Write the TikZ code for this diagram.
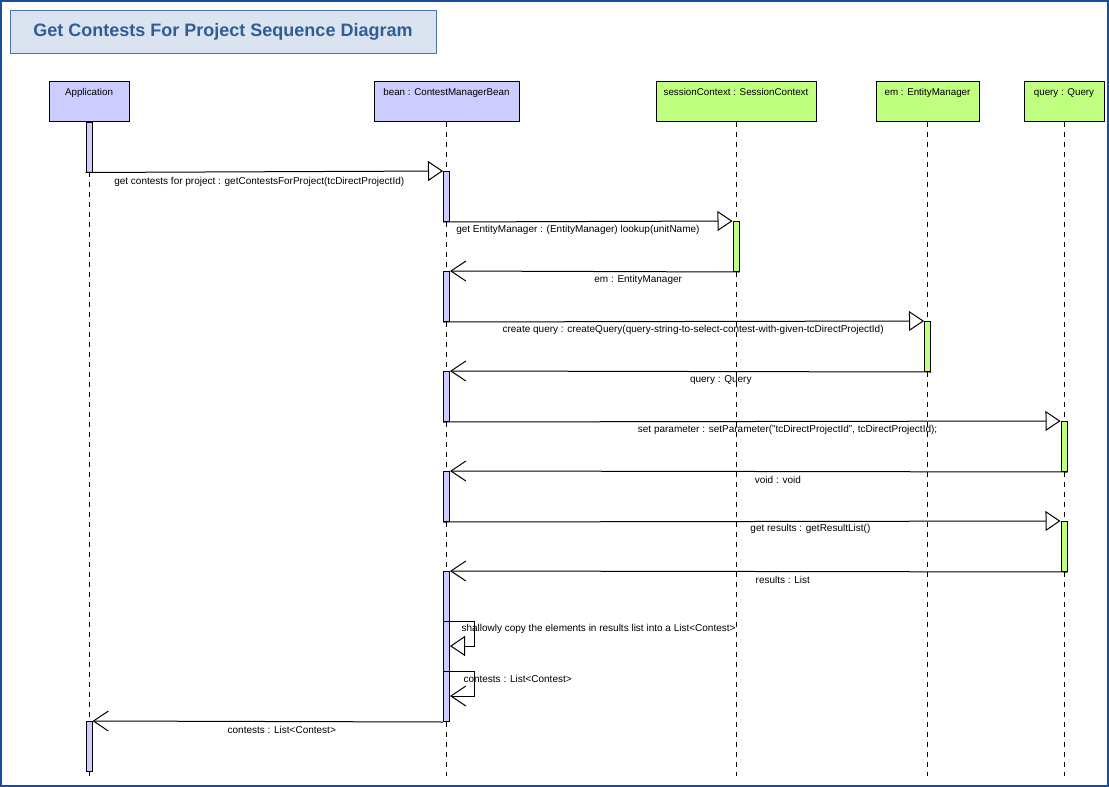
\documentclass[tikz,border=0pt]{standalone}
\usepackage{fontspec}
\setmainfont{Liberation Sans}
\usetikzlibrary{arrows.meta}
\definecolor{objblue}{HTML}{CCCCFF}
\definecolor{objgreen}{HTML}{C0FF80}
\definecolor{framecol}{HTML}{1A4D9A}
\definecolor{titlefill}{HTML}{DAE4F0}
\definecolor{titledraw}{HTML}{4A76AC}
\definecolor{titletext}{HTML}{2F5D95}
\tikzset{
  head/.style={draw, line width=1pt, inner sep=0pt, text height=14pt, text depth=26pt, font=\fontsize{9.8}{11}\selectfont},
  bar/.style={draw, line width=1pt, minimum width=6pt, minimum height=50pt, inner sep=0pt, anchor=north},
  life/.style={line width=1pt, dash pattern=on 5pt off 5pt},
  call/.style={line width=1pt, -{Triangle[length=15pt,width=20pt,fill=white]}},
  reply/.style={line width=1pt, -{Straight Barb[length=15pt,width=20pt]}},
  msg/.style={font=\fontsize{10}{11}\selectfont, inner sep=0pt, yshift=-8pt},
}
\begin{document}
\begin{tikzpicture}[x=1pt, y=-1pt]
\useasboundingbox (0,0) rectangle (1109,787);
\draw[framecol, line width=2pt] (1,1) rectangle (1108,786);
\node[draw=titledraw, fill=titlefill, line width=1pt, minimum width=426pt, minimum height=43pt, text=titletext, font=\bfseries\fontsize{18}{20}\selectfont] (title) at (223,31.5) {Get Contests For Project Sequence Diagram};
% objects
\node[head, fill=objblue, minimum width=80pt] (app) at (89,101) {Application};
\node[head, fill=objblue, minimum width=145pt] (bean) at (446.5,101) {bean : ContestManagerBean};
\node[head, fill=objgreen, minimum width=160pt] (sess) at (736,101) {sessionContext : SessionContext};
\node[head, fill=objgreen, minimum width=103pt] (em) at (927.5,101) {em : EntityManager};
\node[head, fill=objgreen, minimum width=80pt] (query) at (1064,101) {query : Query};
% lifelines
\draw[life] (app.south) -- (app.south |- 0,776);
\draw[life] (bean.south) -- (bean.south |- 0,776);
\draw[life] (sess.south) -- (sess.south |- 0,776);
\draw[life] (em.south) -- (em.south |- 0,776);
\draw[life] (query.south) -- (query.south |- 0,776);
% activations
\node[bar, fill=objblue] (a1) at (app.south) {};
\node[bar, fill=objblue] (b1) at (bean.south |- 0,171) {};
\node[bar, fill=objgreen] (s1) at (sess.south |- 0,221) {};
\node[bar, fill=objblue] (b2) at (bean.south |- 0,271) {};
\node[bar, fill=objgreen] (e1) at (em.south |- 0,321) {};
\node[bar, fill=objblue] (b3) at (bean.south |- 0,371) {};
\node[bar, fill=objgreen] (q1) at (query.south |- 0,421) {};
\node[bar, fill=objblue] (b4) at (bean.south |- 0,471) {};
\node[bar, fill=objgreen] (q2) at (query.south |- 0,521) {};
\node[bar, fill=objblue, minimum height=150pt] (b5) at (bean.south |- 0,571) {};
\node[bar, fill=objblue] (a2) at (app.south |- 0,721) {};
% messages
\draw[call] (a1.south west) -- node[msg, pos=0.486, yshift=-2pt] {get contests for project : getContestsForProject(tcDirectProjectId)} (b1.north west);
\draw[call] (b1.south west) -- node[msg, pos=0.466] {get EntityManager : (EntityManager) lookup(unitName)} (s1.north west);
\draw[reply] (s1.south east) -- node[msg, pos=0.35] {em : EntityManager} (b2.north east);
\draw[call] (b2.south west) -- node[msg, pos=0.52] {create query : createQuery(query-string-to-select-contest-with-given-tcDirectProjectId)} (e1.north west);
\draw[reply] (e1.south east) -- node[msg, pos=0.437] {query : Query} (b3.north east);
\draw[call] (b3.south west) -- node[msg, pos=0.558] {set parameter : setParameter("tcDirectProjectId", tcDirectProjectId);} (q1.north west);
\draw[reply] (q1.south east) -- node[msg, pos=0.469] {void : void} (b4.north east);
\draw[call] (b4.south west) -- node[msg, pos=0.595] {get results : getResultList()} (q2.north west);
\draw[reply] (q2.south east) -- node[msg, pos=0.461] {results : List} (b5.north east);
\draw[call] ([yshift=-50pt]b5.north west) node[msg, anchor=west, xshift=18pt] {shallowly copy the elements in results list into a List<Contest>} -- ++(31,0) -- ++(0,25) -- ([yshift=-75pt]b5.north east);
\draw[reply] ([yshift=-100pt]b5.north west) node[msg, anchor=west, xshift=20pt] {contests : List<Contest>} -- ++(31,0) -- ++(0,25) -- ([yshift=-125pt]b5.north east);
\draw[reply] (b5.south west) -- node[msg, pos=0.46] {contests : List<Contest>} (a2.north east);
\end{tikzpicture}
\end{document}
